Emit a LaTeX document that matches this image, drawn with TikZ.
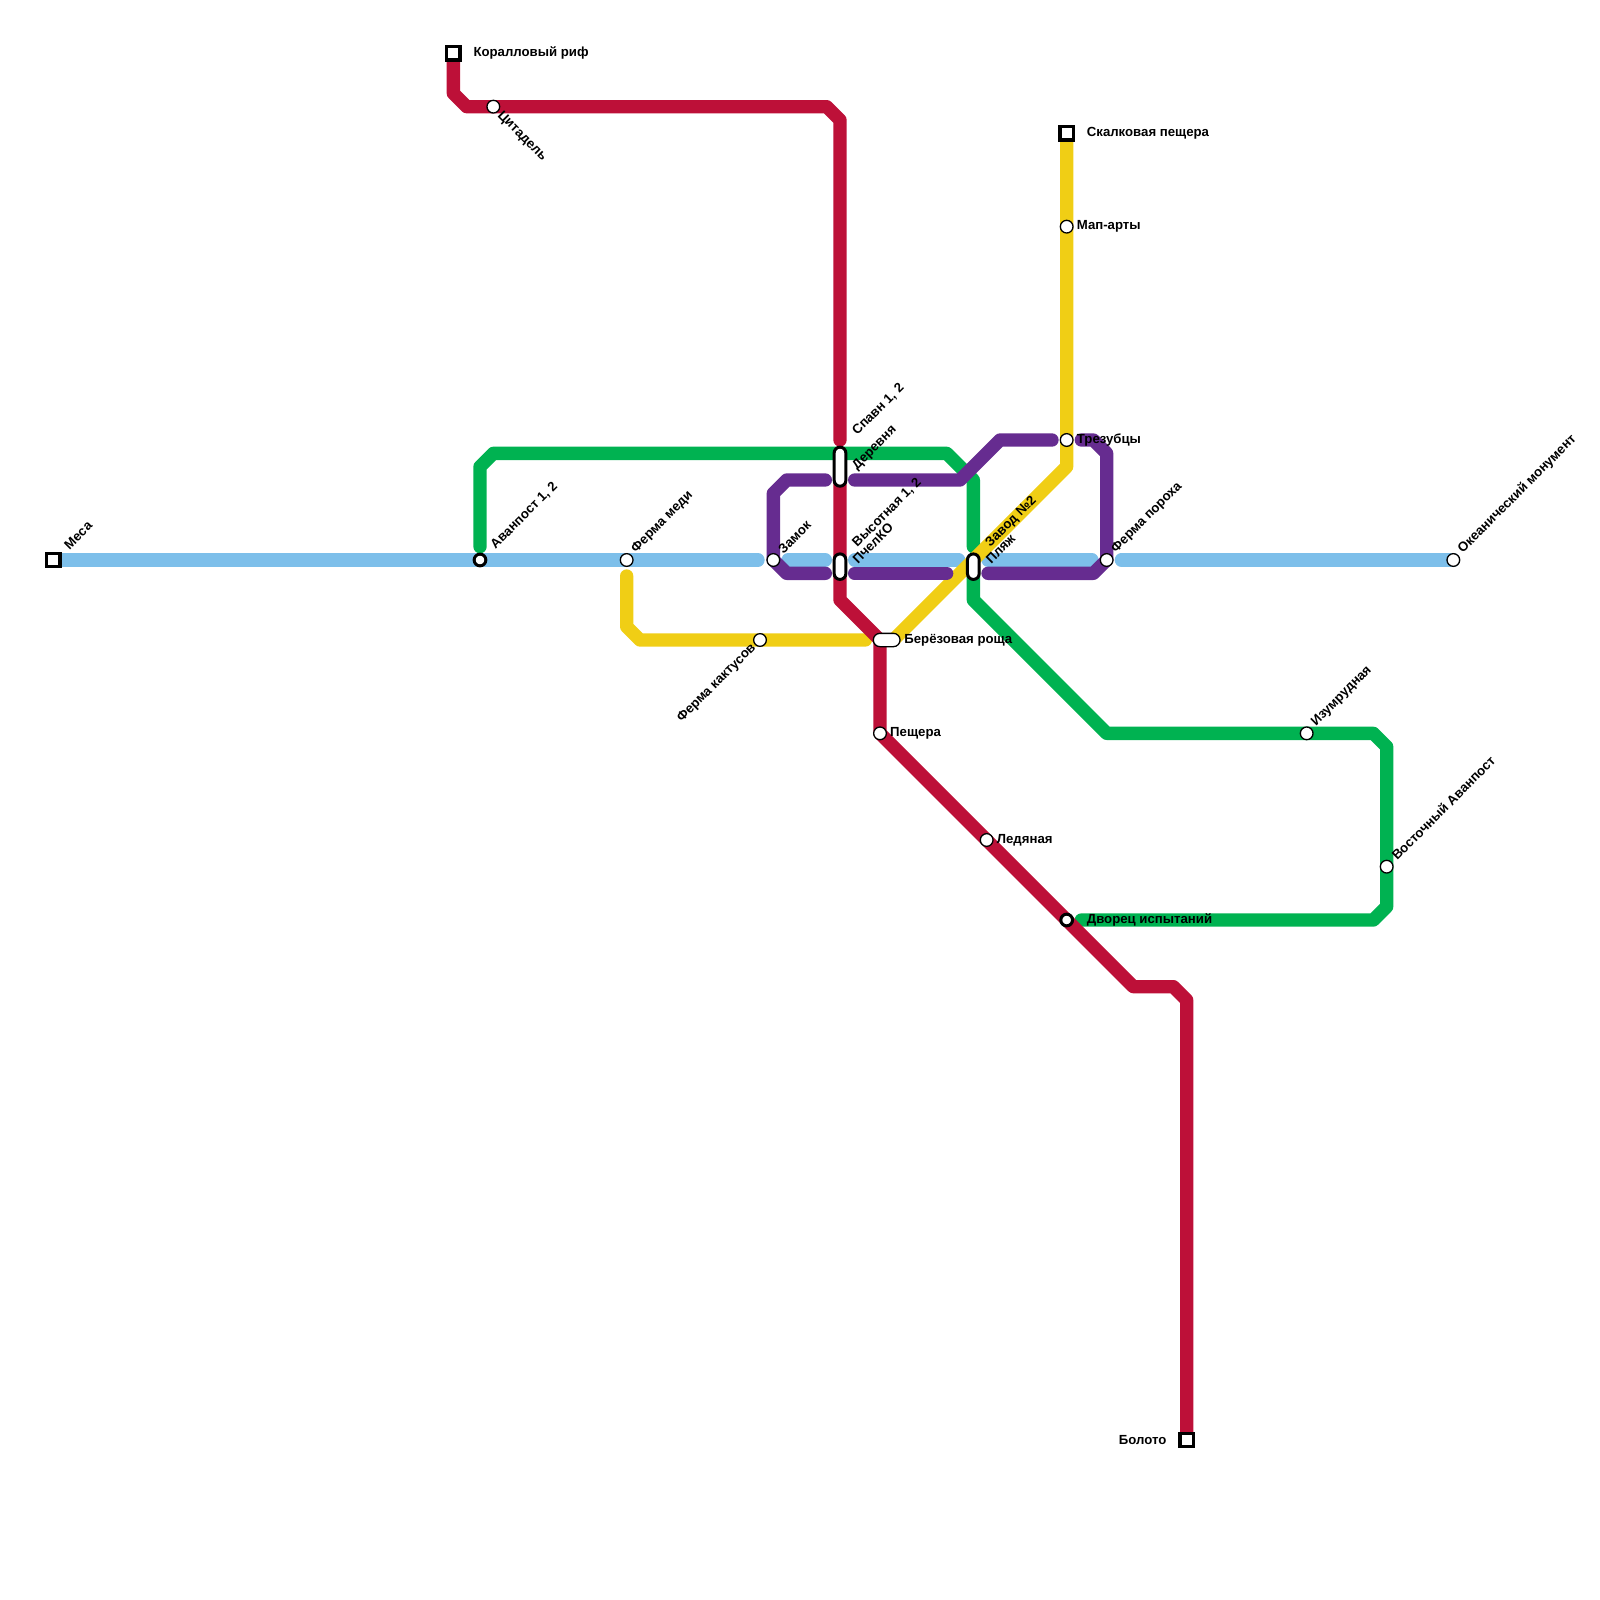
\documentclass[tikz,border=0pt]{standalone}
\usepackage{fontspec}
\setmainfont{Liberation Sans}
\usetikzlibrary{backgrounds}
\definecolor{redline}{HTML}{BD1038}
\definecolor{greenline}{HTML}{00B251}
\definecolor{blueline}{HTML}{7DBFEA}
\definecolor{yellowline}{HTML}{F0CE15}
\definecolor{purpleline}{HTML}{662C90}
\tikzset{
  metro/.style={line width=13.33pt,line cap=round,line join=round},
  stop/.style={circle,draw=black,fill=white,line width=1.3pt,minimum size=12.7pt,inner sep=0pt},
  hub/.style={stop,line width=3pt,minimum size=11.7pt},
  terminal/.style={rectangle,draw=black,fill=white,line width=3.3pt,minimum size=13.3pt,inner sep=0pt},
  pill/.style={rectangle,draw=black,fill=white,line width=3pt,rounded corners=5.8pt,inner sep=0pt,minimum width=11.7pt},
  lbl/.style={font=\fontsize{13.2}{13.2}\selectfont\bfseries,inner sep=0pt,text=black},
  lblne/.style={lbl,rotate=45,anchor=west},
}
\begin{document}
\begin{tikzpicture}[x=13.3333pt,y=-13.3333pt]
  \useasboundingbox (0,0) rectangle (120,120);
  % stations
  \node[terminal] (mesa) at (4,42) {};
  \node[hub] (avanpost) at (36,42) {};
  \node[stop] (med) at (47,42) {};
  \node[stop] (zamok) at (58,42) {};
  \node[stop] (kaktus) at (57,48) {};
  \node[stop] (okean) at (109,42) {};
  \node[stop] (poroh) at (83,42) {};
  \node[terminal] (koral) at (34,4) {};
  \node[stop] (citadel) at (37,8) {};
  \node[terminal] (skal) at (80,10) {};
  \node[stop] (mapart) at (80,17) {};
  \node[stop] (trezub) at (80,33) {};
  \node[stop] (peshera) at (66,55) {};
  \node[stop] (ledyan) at (74,63) {};
  \node[hub] (dvorec) at (80,69) {};
  \node[terminal] (boloto) at (89,108) {};
  \node[stop] (izumrud) at (98,55) {};
  \node[stop] (vostok) at (104,65) {};
  \node[pill,minimum height=39pt] (spavn) at (63,35) {};
  \node[pill,minimum height=25.5pt] (pchel) at (63,42.5) {};
  \node[pill,minimum height=25.5pt] (plyazh) at (73,42.5) {};
  \node[pill,minimum height=13.3pt,minimum width=26.7pt,line width=1.3pt,rounded corners=6.6pt] (berez) at (66.5,48) {};
  % free line ends
  \coordinate (redTop) at (63,33);
  \coordinate (blueA) at (56.85,42);
  \coordinate (blueB) at (59.1,42);
  \coordinate (blueC) at (61.9,42);
  \coordinate (blueD) at (64.1,42);
  \coordinate (blueE) at (71.9,42);
  \coordinate (blueF) at (74.1,42);
  \coordinate (blueG) at (81.9,42);
  \coordinate (blueH) at (84.1,42);
  \coordinate (greenA) at (36,41);
  \coordinate (greenB) at (73,41);
  \coordinate (greenC) at (81.1,69);
  \coordinate (yellowA) at (47,43.2);
  \coordinate (yellowB) at (64.9,48);
  \coordinate (yellowC) at (67,48);
  \coordinate (purpleA) at (78.9,33);
  \coordinate (purpleB) at (81.1,33);
  \coordinate (purpleC) at (64.1,36);
  \coordinate (purpleD) at (61.9,36);
  \coordinate (purpleE) at (61.9,43);
  \coordinate (purpleF) at (64.1,43);
  \coordinate (purpleG) at (71,43);
  \coordinate (purpleH) at (74.1,43);
  % lines
  \begin{scope}[on background layer]
    \draw[metro,greenline] (greenA) -- (36,35) -- (37,34) -- (71,34) -- (73,36) -- (greenB);
    \draw[metro,greenline] (plyazh.center) -- (73,45) -- (83,55) -- (izumrud.center) -- (103,55) -- (104,56) -- (vostok.center) -- (104,68) -- (103,69) -- (greenC);
    \draw[metro,blueline] (mesa.center) -- (blueA);
    \draw[metro,blueline] (blueB) -- (blueC);
    \draw[metro,blueline] (blueD) -- (blueE);
    \draw[metro,blueline] (blueF) -- (blueG);
    \draw[metro,blueline] (blueH) -- (okean.center);
    \draw[metro,yellowline] (skal.center) -- (80,35) -- (yellowC);
    \draw[metro,yellowline] (yellowA) -- (47,47) -- (48,48) -- (yellowB);
    \draw[metro,purpleline] (purpleA) -- (75,33) -- (72,36) -- (purpleC);
    \draw[metro,purpleline] (purpleB) -- (82,33) -- (83,34) -- (poroh.center) -- (82,43) -- (purpleH);
    \draw[metro,purpleline] (purpleD) -- (59,36) -- (58,37) -- (zamok.center) -- (59,43) -- (purpleE);
    \draw[metro,purpleline] (purpleF) -- (purpleG);
    \draw[metro,redline] (koral.center) -- (34,7) -- (35,8) -- (62,8) -- (63,9) -- (redTop);
    \draw[metro,redline] (spavn.center) -- (63,45) -- (66,48) -- (peshera.center) -- (85,74) -- (88,74) -- (89,75) -- (boloto.center);
  \end{scope}
  % labels
  \node[lblne] (mesaL) at ([shift={(13pt,13pt)}]mesa.center) {Меса};
  \node[lblne] (avanpostL) at ([shift={(13pt,13pt)}]avanpost.center) {Аванпост 1, 2};
  \node[lblne] (medL) at ([shift={(7pt,9pt)}]med.center) {Ферма меди};
  \node[lblne] (zamokL) at ([shift={(7pt,9pt)}]zamok.center) {Замок};
  \node[lblne] (okeanL) at ([shift={(7pt,9pt)}]okean.center) {Океанический монумент};
  \node[lblne] (porohL) at ([shift={(7pt,9pt)}]poroh.center) {Ферма пороха};
  \node[lblne] (izumrudL) at ([shift={(7pt,9pt)}]izumrud.center) {Изумрудная};
  \node[lblne] (vostokL) at ([shift={(7pt,9pt)}]vostok.center) {Восточный Аванпост};
  \node[lblne] (spavnL) at (64.1,32.5) {Спавн 1, 2};
  \node[lblne] (derevL) at (64.1,35.1) {Деревня};
  \node[lblne] (visotL) at (64.1,40.9) {Высотная 1, 2};
  \node[lblne] (pchelL) at (64.1,42.1) {ПчелКО};
  \node[lblne] (zavodL) at (74.1,40.9) {Завод №2};
  \node[lblne] (plyazhL) at (74.1,42.1) {Пляж};
  \node[lbl,rotate=-45,anchor=west] (citadelL) at ([shift={(6pt,-7pt)}]citadel.center) {Цитадель};
  \node[lbl,rotate=45,anchor=east] (kaktusL) at ([shift={(-6pt,-6pt)}]kaktus.center) {Ферма кактусов};
  \node[lbl,anchor=west] (koralL) at ([xshift=20pt]koral.center) {Коралловый риф};
  \node[lbl,anchor=west] (skalL) at ([xshift=20pt]skal.center) {Скалковая пещера};
  \node[lbl,anchor=west] (mapartL) at ([xshift=10pt]mapart.center) {Мап-арты};
  \node[lbl,anchor=west] (trezubL) at ([xshift=10pt]trezub.center) {Трезубцы};
  \node[lbl,anchor=west] (peshL) at ([xshift=10pt]peshera.center) {Пещера};
  \node[lbl,anchor=west] (ledyanL) at ([xshift=10pt]ledyan.center) {Ледяная};
  \node[lbl,anchor=west] (dvorecL) at ([xshift=20pt]dvorec.center) {Дворец испытаний};
  \node[lbl,anchor=west] (berezL) at ([xshift=3.5pt]berez.east) {Берёзовая роща};
  \node[lbl,anchor=east] (bolotoL) at ([xshift=-20pt]boloto.center) {Болото};
\end{tikzpicture}
\end{document}
